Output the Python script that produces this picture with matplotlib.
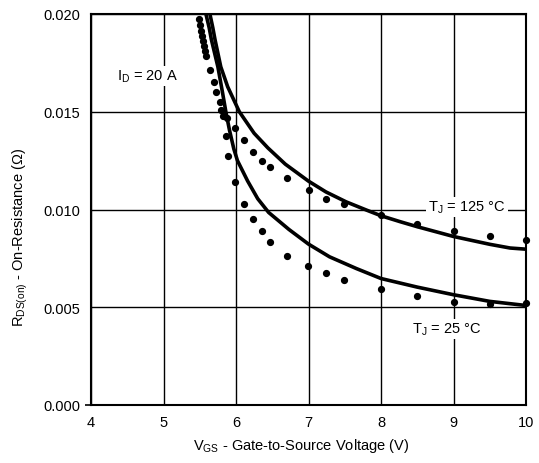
import matplotlib
matplotlib.use("Agg")
import matplotlib.pyplot as plt

plt.rcParams['font.family'] = ['Liberation Sans', 'DejaVu Sans']
plt.rcParams['mathtext.fontset'] = 'custom'
plt.rcParams['mathtext.rm'] = 'Liberation Sans'

# Solid curves (model)
v_125_line = [5.64, 5.68, 5.71, 5.79, 5.885, 6.046, 6.25, 6.44, 6.68, 7.0, 7.24, 7.52, 7.80, 8.0, 8.27, 8.5, 9.0, 9.5, 9.78, 10.0]
r_125_line = [0.0200, 0.0193, 0.0187, 0.0173, 0.01628, 0.0150, 0.0139, 0.01315, 0.01232, 0.01145, 0.0109, 0.01039, 0.00997, 0.00968, 0.00937, 0.00912, 0.00862, 0.00822, 0.00803, 0.00797]
v_25_line = [5.585, 5.63, 5.66, 5.75, 5.816, 5.86, 5.91, 5.97, 6.02, 6.16, 6.30, 6.45, 6.73, 7.0, 7.29, 7.66, 8.0, 8.5, 9.0, 9.5, 10.0]
r_25_line = [0.0200, 0.0193, 0.0187, 0.0173, 0.01594, 0.0150, 0.01406, 0.0131, 0.0125, 0.01146, 0.01055, 0.00985, 0.00898, 0.00823, 0.00758, 0.00698, 0.00647, 0.00603, 0.00564, 0.0053, 0.00509]

# Measured points (dots)
v_125_pts = [5.49, 5.52, 5.54, 5.57, 5.64, 5.72, 5.79, 5.88, 5.99, 6.115, 6.24, 6.355, 6.47, 6.71, 7.0, 7.24, 7.49, 8.0, 8.5, 9.0, 9.5, 10.0]
r_125_pts = [0.01973, 0.01915, 0.01863, 0.01812, 0.01713, 0.01602, 0.01509, 0.0147, 0.01417, 0.01355, 0.01295, 0.01248, 0.01218, 0.01162, 0.01102, 0.01056, 0.01026, 0.00972, 0.00926, 0.00891, 0.00862, 0.00845]
v_25_pts = [5.51, 5.53, 5.56, 5.59, 5.69, 5.78, 5.82, 5.86, 5.89, 5.99, 6.115, 6.24, 6.355, 6.47, 6.71, 6.99, 7.24, 7.49, 8.0, 8.5, 9.0, 9.5, 10.0]
r_25_pts = [0.01944, 0.01887, 0.01836, 0.01785, 0.01654, 0.01551, 0.01478, 0.01374, 0.01273, 0.01143, 0.01028, 0.0095, 0.00888, 0.00832, 0.00763, 0.00712, 0.00677, 0.0064, 0.00595, 0.00556, 0.00527, 0.00518, 0.0052]

x_ticks = [4, 5, 6, 7, 8, 9, 10]
y_ticks = [0.000, 0.005, 0.010, 0.015, 0.020]
y_tick_labels = ['0.000', '0.005', '0.010', '0.015', '0.020']

fig = plt.figure(figsize=(5.39, 4.64), dpi=100)
ax = fig.add_axes([91/539, 1-406/464, 435/539, 391/464])

ax.plot(v_125_line, r_125_line, color='black', lw=2.6, solid_joinstyle='round', zorder=3)
ax.plot(v_25_line, r_25_line, color='black', lw=2.6, solid_joinstyle='round', zorder=3)
ax.plot(v_125_pts, r_125_pts, 'o', color='black', ms=4.2, zorder=4, clip_on=False)
ax.plot(v_25_pts, r_25_pts, 'o', color='black', ms=4.2, zorder=4, clip_on=False)

ax.set_xlim(4, 10)
ax.set_ylim(0, 0.020)
ax.set_xticks(x_ticks)
ax.set_yticks(y_ticks)
ax.set_yticklabels(y_tick_labels)
ax.grid(True, color='black', lw=1.0, zorder=1)
ax.set_axisbelow(True)
for s in ax.spines.values():
    s.set_linewidth(1.5)
ax.tick_params(axis='x', length=0, pad=7, labelsize=10.5)
ax.tick_params(axis='y', length=4, width=1.2, pad=4, labelsize=10.5)
for i, t in enumerate(ax.yaxis.get_major_ticks()):
    if i > 0:
        t.tick1line.set_visible(False)

ax.set_xlabel(r'V$_\mathregular{GS}$ - Gate-to-Source Voltage (V)', fontsize=10.5)
ax.set_ylabel(r'R$_\mathregular{DS(on)}$ - On-Resistance ($\Omega$)', fontsize=10.5)
ax.xaxis.set_label_coords(0.483, -0.08)
ax.yaxis.set_label_coords(-0.14, 0.43)

box = dict(facecolor='white', edgecolor='none', pad=1.5)
ax.text(4.36, 0.01683, r'I$_\mathregular{D}$ = 20 A', fontsize=10.5, va='center', ha='left', bbox=box, zorder=5)
ax.text(8.65, 0.01013, r'T$_\mathregular{J}$ = 125 °C', fontsize=10.5, va='center', ha='left', bbox=box, zorder=5)
ax.text(8.43, 0.00389, r'T$_\mathregular{J}$ = 25 °C', fontsize=10.5, va='center', ha='left', bbox=box, zorder=5)

fig.savefig('out.png', dpi=100, facecolor='white')
